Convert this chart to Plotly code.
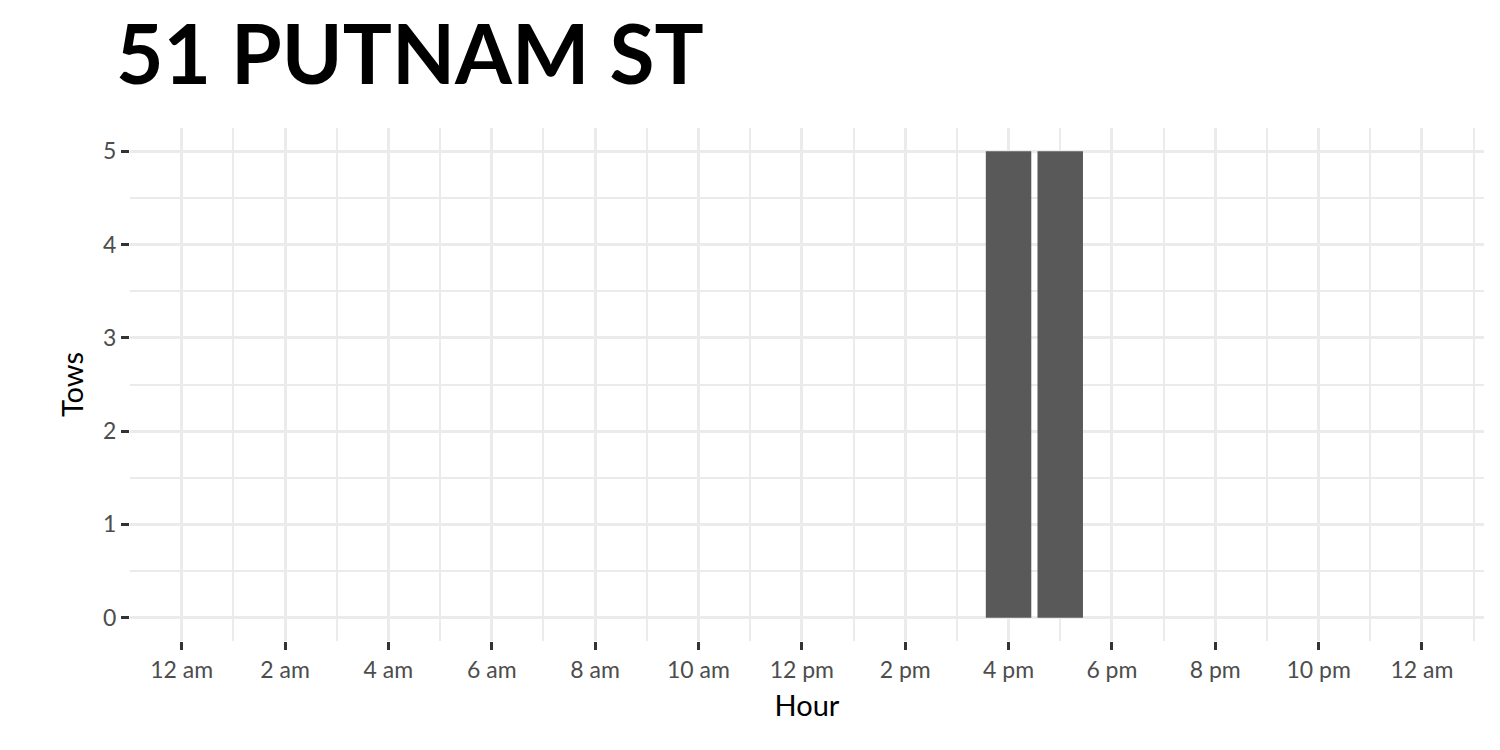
import plotly.graph_objects as go

hours = [16, 17]
tows = [5, 5]
tick_hours = list(range(0, 25, 2))
tick_labels = ["12 am", "2 am", "4 am", "6 am", "8 am", "10 am", "12 pm",
               "2 pm", "4 pm", "6 pm", "8 pm", "10 pm", "12 am"]

fig = go.Figure(go.Bar(x=hours, y=tows, width=0.88, marker=dict(color="#595959", line_width=0)))

fig.update_layout(
    width=1500, height=750,
    plot_bgcolor="white", paper_bgcolor="white",
    margin=dict(l=122, r=24, t=120, b=117, autoexpand=False),
    font=dict(family="Lato, Noto Sans", color="#4d4d4d", size=23),
    title=dict(text="<b>51 PUTNAM ST</b>", x=0.072, xanchor="left", y=0.975, yanchor="top",
               font=dict(size=82, color="black", family="Lato, Noto Sans")),
    showlegend=False,
)
fig.update_xaxes(
    automargin=False,
    range=[-1.0, 25.2], tickvals=tick_hours, ticktext=tick_labels,
    showgrid=True, gridcolor="#ebebeb", gridwidth=3, zeroline=False,
    ticks="outside", ticklen=8, tickwidth=3, tickcolor="#333333",
    minor=dict(dtick=1, tick0=0, showgrid=True, gridcolor="#ebebeb", gridwidth=1.5),
    title=dict(text="Hour", font=dict(size=29, color="black"), standoff=14),
)
fig.update_yaxes(
    automargin=False,
    range=[-0.25, 5.25], tickvals=[0, 1, 2, 3, 4, 5],
    showgrid=True, gridcolor="#ebebeb", gridwidth=3, zeroline=False,
    ticks="outside", ticklen=8, tickwidth=3, tickcolor="#333333",
    minor=dict(dtick=0.5, tick0=0, showgrid=True, gridcolor="#ebebeb", gridwidth=1.5),
    title=dict(text="Tows", font=dict(size=29, color="black"), standoff=10),
)
fig.write_html("out.html")
